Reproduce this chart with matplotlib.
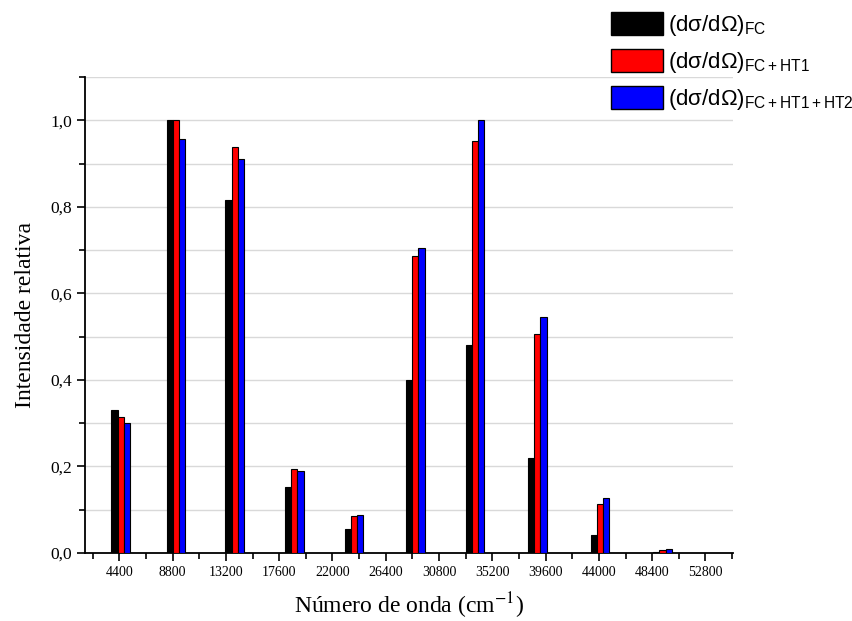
import matplotlib
matplotlib.use("Agg")
import matplotlib.pyplot as plt
import numpy as np
from matplotlib.ticker import MultipleLocator, FuncFormatter
from matplotlib.patches import Patch

# Data
positions = [4520, 9085, 13933, 18847, 23793, 28844, 33787, 38912, 44093, 49250]
fc = [0.330, 1.000, 0.815, 0.152, 0.055, 0.400, 0.480, 0.219, 0.042, 0.002]
fc_ht1 = [0.315, 1.000, 0.938, 0.194, 0.086, 0.686, 0.951, 0.506, 0.113, 0.007]
fc_ht1_ht2 = [0.301, 0.956, 0.910, 0.190, 0.088, 0.704, 1.000, 0.545, 0.127, 0.009]
xticks = [4400, 8800, 13200, 17600, 22000, 26400, 30800, 35200, 39600, 44000, 48400, 52800]
labels = [r"(dσ/dΩ)$_{\mathrm{FC}}$",
          r"(dσ/dΩ)$_{\mathrm{FC}+\mathrm{HT1}}$",
          r"(dσ/dΩ)$_{\mathrm{FC}+\mathrm{HT1}+\mathrm{HT2}}$"]
colors = ["#000000", "#ff0000", "#0000ff"]

plt.rcParams['mathtext.fontset'] = 'custom'
plt.rcParams['mathtext.rm'] = 'Liberation Sans'
plt.rcParams['mathtext.it'] = 'Liberation Sans:italic'
plt.rcParams['mathtext.bf'] = 'Liberation Sans:bold'
plt.rcParams['mathtext.sf'] = 'Liberation Sans'

fig = plt.figure(figsize=(8.52, 6.21), dpi=100)
ax = fig.add_axes([0.0998, 0.1095, 0.7605, 0.7665])

w = 510
pos = np.array(positions)
for i, (vals, c) in enumerate(zip([fc, fc_ht1, fc_ht1_ht2], colors)):
    ax.bar(pos + (i - 1) * w, vals, width=w, color=c, edgecolor='black', linewidth=0.8, zorder=3)

ax.set_xlim(1570, 55070)
ax.set_ylim(0, 1.1)
ax.set_xticks(xticks)
ax.set_xticklabels([str(t) for t in xticks], fontfamily='Liberation Serif', fontsize=10)
ax.xaxis.set_minor_locator(MultipleLocator(2200))
ax.yaxis.set_major_locator(MultipleLocator(0.2))
ax.yaxis.set_minor_locator(MultipleLocator(0.1))
ax.yaxis.set_major_formatter(FuncFormatter(lambda v, p: f"{v:.1f}".replace('.', ',')))
ax.tick_params(axis='y', labelsize=12.5)
ax.tick_params(which='major', direction='out', length=6, width=1.2)
ax.tick_params(which='minor', direction='out', length=4, width=1.2)
for l in ax.get_yticklabels():
    l.set_fontfamily('Liberation Serif')

ax.grid(True, axis='y', which='both', color='#d9d9d9', linewidth=1.0, zorder=0)
ax.set_axisbelow(True)
for s in ['top', 'right']:
    ax.spines[s].set_visible(False)
for s in ['left', 'bottom']:
    ax.spines[s].set_linewidth(1.3)

ax.set_xlabel("Número de onda (cm$^{-1}$)", fontfamily='Liberation Serif', fontsize=17,
              math_fontfamily='stix', labelpad=8)
ax.set_ylabel("Intensidade relativa", fontfamily='Liberation Serif', fontsize=17, labelpad=10)

handles = [Patch(facecolor=c, edgecolor='black', linewidth=1.0) for c in colors]
fig.legend(handles, labels, loc='upper left', bbox_to_anchor=(611 / 852, 1 - 12 / 621), frameon=False,
           prop={'family': 'Liberation Sans', 'size': 16}, handlelength=2.34, handleheight=1.2,
           handletextpad=0.22, labelspacing=0.5, borderaxespad=0, borderpad=0)

fig.savefig("out.png", dpi=100)
